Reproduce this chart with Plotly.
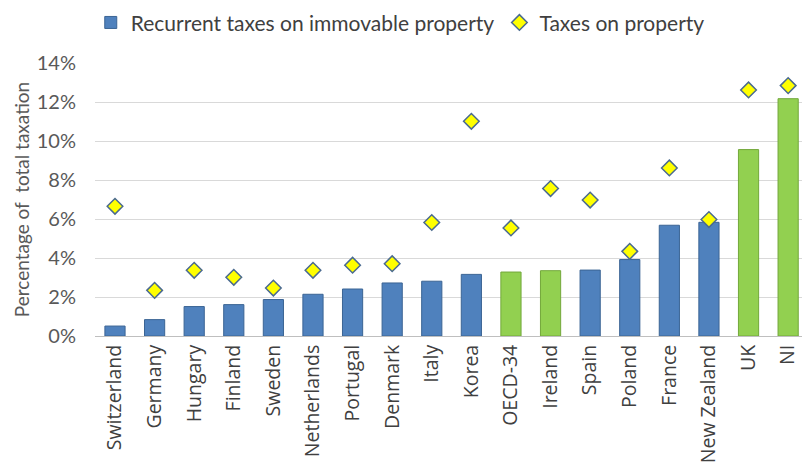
import plotly.graph_objects as go

# Property taxation as a share of total taxation (%)
countries = ["Switzerland", "Germany", "Hungary", "Finland", "Sweden", "Netherlands",
             "Portugal", "Denmark", "Italy", "Korea", "OECD-34", "Ireland", "Spain",
             "Poland", "France", "New Zealand", "UK", "NI"]
recurrent = [0.51, 0.84, 1.51, 1.61, 1.87, 2.14, 2.41, 2.72, 2.81, 3.16, 3.28, 3.35,
             3.38, 3.92, 5.68, 5.83, 9.56, 12.17]
property_taxes = [6.65, 2.34, 3.37, 3.01, 2.46, 3.37, 3.63, 3.71, 5.82, 11.01, 5.54, 7.56,
                  6.97, 4.34, 8.62, 5.97, 12.62, 12.84]
highlighted = {"OECD-34", "Ireland", "UK", "NI"}

blue, blue_edge = "#4F81BD", "#3B6494"
green, green_edge = "#92D050", "#72A83A"
bar_fill = [green if c in highlighted else blue for c in countries]
bar_edge = [green_edge if c in highlighted else blue_edge for c in countries]

fig = go.Figure()
fig.add_trace(go.Bar(
    x=countries, y=recurrent, name="Recurrent taxes on immovable property",
    width=0.51, legend="legend",
    marker=dict(color=bar_fill, line=dict(color=bar_edge, width=1)),
))
fig.add_trace(go.Scatter(
    x=countries, y=property_taxes, name="Taxes on property", mode="markers",
    legend="legend2",
    marker=dict(symbol="diamond", size=12, color="#FFFF00",
                line=dict(color="#4A6A90", width=1.5)),
))

legend_font = dict(family="Lato", size=21, color="#404040")
fig.update_layout(
    width=802, height=463,
    margin=dict(l=95, r=0, t=63, b=127, autoexpand=False),
    paper_bgcolor="white", plot_bgcolor="white",
    showlegend=True,
    legend=dict(orientation="h", x=-0.006, y=0.995, yref="container",
                xanchor="left", yanchor="top", font=legend_font, itemwidth=30),
    legend2=dict(orientation="h", x=0.572, y=0.995, yref="container",
                 xanchor="left", yanchor="top", font=legend_font, itemwidth=30),
)
fig.update_xaxes(
    range=[-0.505, 17.35], tickangle=-90,
    tickfont=dict(family="Open Sans", size=19.5, color="#404040"),
    showgrid=False, showline=True, linecolor="#BFBFBF", linewidth=1,
    ticks="",
)
fig.update_yaxes(
    range=[0, 14], dtick=2, ticksuffix="%",
    tickfont=dict(family="Lato", size=20, color="#595959"),
    ticklabelstandoff=18,
    showgrid=True, gridcolor="#D9D9D9", gridwidth=1,
    zeroline=False, showline=False,
    title=dict(text="Percentage of  total taxation",
               font=dict(family="Lato", size=19, color="#595959"), standoff=2),
)

fig.write_html("out.html")
